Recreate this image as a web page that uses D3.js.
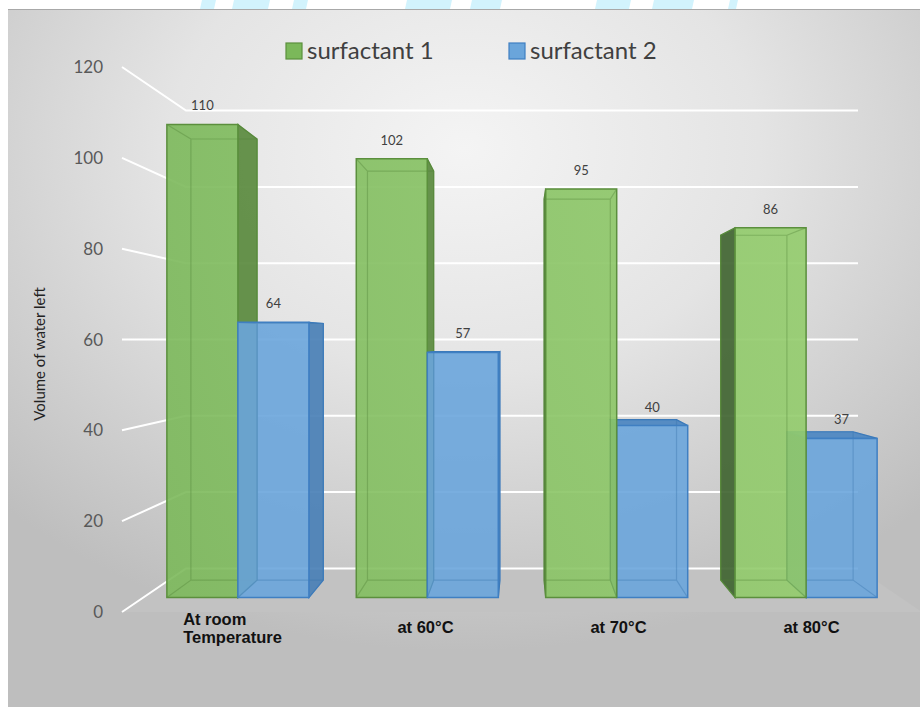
<!DOCTYPE html>
<html>
<head>
<meta charset="utf-8">
<script src="https://cdn.jsdelivr.net/npm/d3@7"></script>
<style>
  body { margin: 0; background: #fff; }
  svg { display: block; }
</style>
</head>
<body>
<script>
// chart data
var categories = ["At room Temperature", "at 60°C", "at 70°C", "at 80°C"];
var categoryLines = [["At room", "Temperature"], ["at 60°C"], ["at 70°C"], ["at 80°C"]];
var seriesNames = ["surfactant 1", "surfactant 2"];
var surfactant1 = [110, 102, 95, 86];
var surfactant2 = [64, 57, 40, 37];
var yTicks = [0, 20, 40, 60, 80, 100, 120];

var width = 920, height = 707;

// fake perspective: everything is projected towards a vanishing point
var vx = 522;
var sBarFront = 0.947, sBarBack = 0.883, sWall = 0.84, sLabel = 0.965;

var x0 = d3.scaleBand().domain(categories).range([122, 922])
    .paddingInner(0.25).paddingOuter(0.125);
var x1 = d3.scaleBand().domain(seriesNames).range([0, x0.bandwidth()]);
var y = d3.scaleLinear().domain([0, 120]).range([612, 67]);
var vy = y(60);

function proj(X, v, s) {
  return [vx + (X - vx) * s, vy + (y(v) - vy) * s];
}
function poly(pts) { return "M" + pts.map(function(p) { return p.join(","); }).join("L") + "Z"; }

var svg = d3.select("body").append("svg")
    .attr("width", width)
    .attr("height", height);

var defs = svg.append("defs");
var bg = defs.append("radialGradient").attr("id", "bg")
    .attr("cx", "50%").attr("cy", "20%").attr("r", "72%");
bg.append("stop").attr("offset", "0%").attr("stop-color", "#f4f4f4");
bg.append("stop").attr("offset", "45%").attr("stop-color", "#e4e4e4");
bg.append("stop").attr("offset", "100%").attr("stop-color", "#bebebe");

var gGreen = defs.append("linearGradient").attr("id", "green")
    .attr("gradientUnits", "userSpaceOnUse")
    .attr("x1", 150).attr("x2", 800).attr("y1", 0).attr("y2", 0);
gGreen.append("stop").attr("offset", "0%").attr("stop-color", "#7bb85a");
gGreen.append("stop").attr("offset", "100%").attr("stop-color", "#93cc6c");

// watermark scraps at the very top
var marks = [[200, 14], [232, 36], [292, 14], [405, 45], [470, 30], [595, 34], [652, 40], [728, 8]];
svg.selectAll(".wm").data(marks).enter().append("path")
    .attr("fill", "#d2f3fd")
    .attr("d", function(d) { return poly([[d[0] + 2, 0], [d[0] + d[1] + 2, 0], [d[0] + d[1], 9], [d[0], 9]]); });

// panel
svg.append("rect")
    .attr("x", 8).attr("y", 9).attr("width", width - 8).attr("height", height - 9)
    .attr("fill", "url(#bg)");
svg.append("line")
    .attr("x1", 8).attr("x2", width).attr("y1", 9.5).attr("y2", 9.5)
    .attr("stroke", "#a8a8a8");

// floor
svg.append("path")
    .attr("d", poly([proj(122, 0, 1), proj(922, 0, 1), proj(922, 0, sWall), proj(122, 0, sWall)]))
    .attr("fill", "#c2c2c2");

// gridlines: side wall then back wall
svg.selectAll(".grid").data(yTicks).enter().append("path")
    .attr("class", "grid")
    .attr("fill", "none")
    .attr("stroke", "#ffffff")
    .attr("stroke-width", 2)
    .attr("d", function(v) {
      return d3.line()([proj(122, v, 1), proj(122, v, sWall), proj(922, v, sWall)]);
    });

// y tick labels
svg.selectAll(".ytick").data(yTicks).enter().append("text")
    .attr("x", 103)
    .attr("y", function(v) { return y(v) + 6; })
    .attr("text-anchor", "end")
    .attr("font-family", "Lato, 'Open Sans', sans-serif")
    .attr("font-size", 17)
    .attr("fill", "#595959")
    .text(function(v) { return v; });

// y title
svg.append("text")
    .attr("transform", "translate(45,354) rotate(-90)")
    .attr("text-anchor", "middle")
    .attr("font-family", "Lato, 'Open Sans', sans-serif")
    .attr("font-size", 15)
    .attr("fill", "#222")
    .text("Volume of water left");

// bars
var styles = [
  {front: "url(#green)", side: ["#5a8a3e", "#416532"], top: "#86c261", stroke: "#5b8f3d", inner: "#4e7f33"},
  {front: "#6aa5db", side: ["#4a80b6", "#3f6f9f"], top: "#4f88c2", stroke: "#3f7fc2", inner: "#356fa8"}
];

var bars = [];
categories.forEach(function(c, i) {
  bars.push({cat: c, k: 0, value: surfactant1[i]});
  bars.push({cat: c, k: 1, value: surfactant2[i]});
});
bars.forEach(function(b) {
  b.X0 = x0(b.cat) + x1(seriesNames[b.k]);
  b.X1 = b.X0 + x1.bandwidth();
});
bars.sort(function(a, b) {
  return Math.abs((b.X0 + b.X1) / 2 - vx) - Math.abs((a.X0 + a.X1) / 2 - vx);
});

var barG = svg.selectAll(".bar").data(bars).enter().append("g").attr("class", "bar");

barG.each(function(b) {
  var g = d3.select(this), st = styles[b.k], v = b.value;
  var f = sBarFront, bk = sBarBack;
  var FTL = proj(b.X0, v, f), FTR = proj(b.X1, v, f), FBL = proj(b.X0, 0, f), FBR = proj(b.X1, 0, f);
  var BTL = proj(b.X0, v, bk), BTR = proj(b.X1, v, bk), BBL = proj(b.X0, 0, bk), BBR = proj(b.X1, 0, bk);

  // visible side face
  if (b.X1 < vx) {
    g.append("path").attr("d", poly([FTR, BTR, BBR, FBR]))
      .attr("fill", st.side[0]).attr("fill-opacity", 0.92)
      .attr("stroke", st.stroke).attr("stroke-width", 1.2);
  } else if (b.X0 > vx) {
    g.append("path").attr("d", poly([FTL, BTL, BBL, FBL]))
      .attr("fill", st.side[1]).attr("fill-opacity", 0.92)
      .attr("stroke", st.stroke).attr("stroke-width", 1.2);
  }
  // top face seen from above
  if (v < 60) {
    g.append("path").attr("d", poly([FTL, FTR, BTR, BTL]))
      .attr("fill", st.top).attr("fill-opacity", 0.95)
      .attr("stroke", st.stroke).attr("stroke-width", 1.2);
  }
  // front face
  g.append("path").attr("d", poly([FTL, FTR, FBR, FBL]))
    .attr("fill", st.front).attr("fill-opacity", 0.9);
  // hidden edges showing through the glassy bar
  g.append("path")
    .attr("d", poly([BTL, BTR, BBR, BBL]) + d3.line()([FTL, BTL]) + d3.line()([FTR, BTR]) +
      d3.line()([FBL, BBL]) + d3.line()([FBR, BBR]))
    .attr("fill", "none").attr("stroke", st.inner)
    .attr("stroke-opacity", 0.35).attr("stroke-width", 1.2);
  g.append("path").attr("d", poly([FTL, FTR, FBR, FBL]))
    .attr("fill", "none").attr("stroke", st.stroke).attr("stroke-width", 1.5);

  // data label
  g.append("text")
    .attr("x", (FTL[0] + FTR[0]) / 2)
    .attr("y", FTL[1] - 14)
    .attr("text-anchor", "middle")
    .attr("font-family", "Lato, 'Open Sans', sans-serif")
    .attr("font-size", 13)
    .attr("fill", "#404040")
    .text(v);
});

// category labels
var catText = svg.selectAll(".cat").data(categories).enter().append("text")
    .attr("class", "cat")
    .attr("font-family", "'Liberation Sans', Arial, sans-serif")
    .attr("font-weight", "bold")
    .attr("font-size", 16.5)
    .attr("fill", "#111");
catText.each(function(c, i) {
  var t = d3.select(this);
  var lines = categoryLines[i];
  var cx = proj(x0(c) + x0.bandwidth() / 2, 0, sLabel)[0];
  var y0 = lines.length > 1 ? 625 : 633;
  lines.forEach(function(l, j) {
    t.append("tspan").attr("y", y0 + j * 18).text(l);
  });
  var w = d3.max(t.selectAll("tspan").nodes(), function(n) { return n.getComputedTextLength(); });
  t.selectAll("tspan").attr("x", cx - w / 2);
});

// legend
var legend = svg.selectAll(".legend").data(seriesNames).enter().append("g")
    .attr("transform", function(d, i) { return "translate(" + (286 + i * 223) + ",43)"; });
legend.append("rect")
    .attr("width", 16).attr("height", 16)
    .attr("fill", function(d, i) { return i === 0 ? "#7bb85a" : "#6aa5db"; })
    .attr("stroke", function(d, i) { return styles[i].stroke; })
    .attr("stroke-width", 1.2);
legend.append("text")
    .attr("x", 21).attr("y", 16)
    .attr("font-family", "Lato, 'Open Sans', sans-serif")
    .attr("font-size", 24)
    .attr("fill", "#404040")
    .text(function(d) { return d; });
</script>
</body>
</html>
